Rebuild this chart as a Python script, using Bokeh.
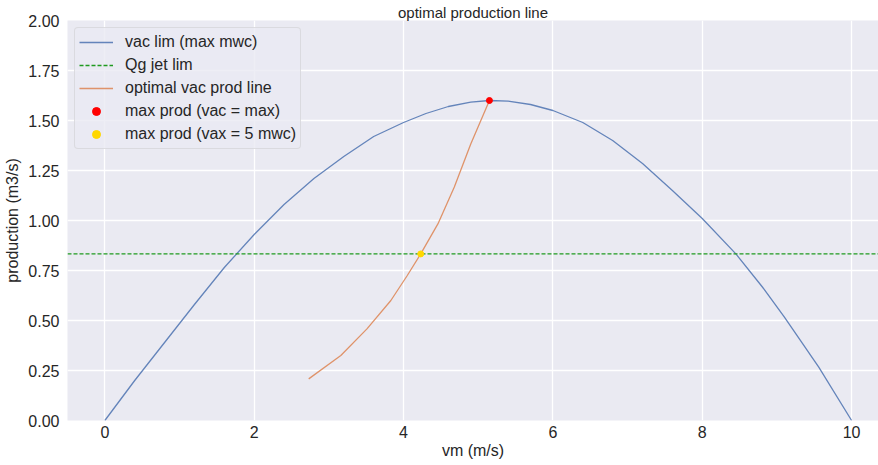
from bokeh.plotting import figure
from bokeh.models import (Range1d, FixedTicker, NumeralTickFormatter, Legend, LegendItem, Title)
from bokeh.embed import file_html
from bokeh.resources import INLINE

# ---- data ----
vm_vac = [0, 0.4, 0.8, 1.2, 1.6, 2.0, 2.4, 2.8, 3.2, 3.6, 4.0, 4.3, 4.6, 4.9, 5.15,
          5.4, 5.7, 6.0, 6.4, 6.8, 7.2, 7.6, 8.0, 8.45, 8.8, 9.1, 9.56, 10.0]
q_vac = [0, 0.2, 0.39, 0.58, 0.765, 0.93, 1.08, 1.21, 1.32, 1.42, 1.49, 1.535, 1.57, 1.592, 1.60,
         1.597, 1.58, 1.55, 1.49, 1.40, 1.285, 1.15, 1.01, 0.833, 0.67, 0.517, 0.267, 0.0]
qg_jet_lim = 0.833
vm_opt = [2.73, 3.16, 3.51, 3.83, 4.05, 4.23, 4.46, 4.68, 4.90, 5.15]
q_opt = [0.208, 0.325, 0.458, 0.60, 0.725, 0.833, 0.983, 1.167, 1.383, 1.60]
max_prod_vac = ([5.15], [1.60])
max_prod_5mwc = ([4.23], [0.833])
x_lim = (-0.5, 10.36)
y_lim = (0.0, 2.0)
x_ticks = [0, 2, 4, 6, 8, 10]
y_ticks = [0, 0.25, 0.5, 0.75, 1.0, 1.25, 1.5, 1.75, 2.0]

FONT = "Liberation Sans"
TXT = "#262626"

p = figure(width=878, height=465, output_backend="svg", toolbar_location=None,
           x_range=Range1d(*x_lim), y_range=Range1d(*y_lim),
           min_border_left=67, min_border_right=0, min_border_top=20, min_border_bottom=45)
p.background_fill_color = "#EAEAF2"
p.border_fill_color = "white"
p.outline_line_color = None

p.title = Title(text="optimal production line", align="center", text_font=FONT,
                text_font_size="15px", text_color=TXT, text_font_style="normal",
                standoff=0, offset=0)

for ax in (p.xaxis[0], p.yaxis[0]):
    ax.axis_line_color = None
    ax.major_tick_line_color = None
    ax.minor_tick_line_color = None
    ax.major_tick_out = 0
    ax.major_tick_in = 0
    ax.minor_tick_out = 0
    ax.minor_tick_in = 0
    ax.major_label_text_font = FONT
    ax.major_label_text_font_size = "16px"
    ax.major_label_text_color = TXT
    ax.axis_label_text_font = FONT
    ax.axis_label_text_font_size = "16px"
    ax.axis_label_text_font_style = "normal"
    ax.axis_label_text_color = TXT

p.xaxis.ticker = FixedTicker(ticks=x_ticks)
p.yaxis.ticker = FixedTicker(ticks=y_ticks)
p.yaxis.formatter = NumeralTickFormatter(format="0.00")
p.xaxis.axis_label = "vm (m/s)"
p.yaxis.axis_label = "production (m3/s)"
p.xaxis.major_label_standoff = 5
p.yaxis.major_label_standoff = 8
p.xaxis.axis_label_standoff = 1
p.yaxis.axis_label_standoff = 4

p.grid.grid_line_color = "white"
p.grid.grid_line_width = 1.3
p.xgrid.minor_grid_line_color = None

r_vac = p.line(vm_vac, q_vac, line_color="#4C72B0", line_width=1.3, line_alpha=0.85)
r_jet = p.line([x_lim[0], x_lim[1]], [qg_jet_lim, qg_jet_lim], line_color="#1f9a1f",
               line_width=1.4, line_dash="4 2")
r_opt = p.line(vm_opt, q_opt, line_color="#DD8452", line_width=1.3, line_alpha=0.85)
r_max = p.scatter(max_prod_vac[0], max_prod_vac[1], size=6, fill_color="#ff0000",
                  line_color="#ff0000")
r_5 = p.scatter(max_prod_5mwc[0], max_prod_5mwc[1], size=6, fill_color="#ffd700",
                line_color="#ffd700")

legend = Legend(items=[
    LegendItem(label="vac lim (max mwc)", renderers=[r_vac]),
    LegendItem(label="Qg jet lim", renderers=[r_jet]),
    LegendItem(label="optimal vac prod line", renderers=[r_opt]),
    LegendItem(label="max prod (vac = max)", renderers=[r_max]),
    LegendItem(label="max prod (vax = 5 mwc)", renderers=[r_5]),
], location="top_left")
legend.margin = 7
legend.padding = 4
legend.spacing = 3
legend.glyph_width = 34
legend.glyph_height = 20
legend.label_height = 20
legend.label_standoff = 12
legend.label_text_font = FONT
legend.label_text_font_size = "16px"
legend.label_text_color = TXT
legend.background_fill_color = "#EAEAF2"
legend.background_fill_alpha = 0.8
legend.border_line_color = "#cccccc"
legend.border_line_width = 1
legend.border_radius = 4
p.add_layout(legend, "center")

open("out.html", "w").write(file_html(p, INLINE))
